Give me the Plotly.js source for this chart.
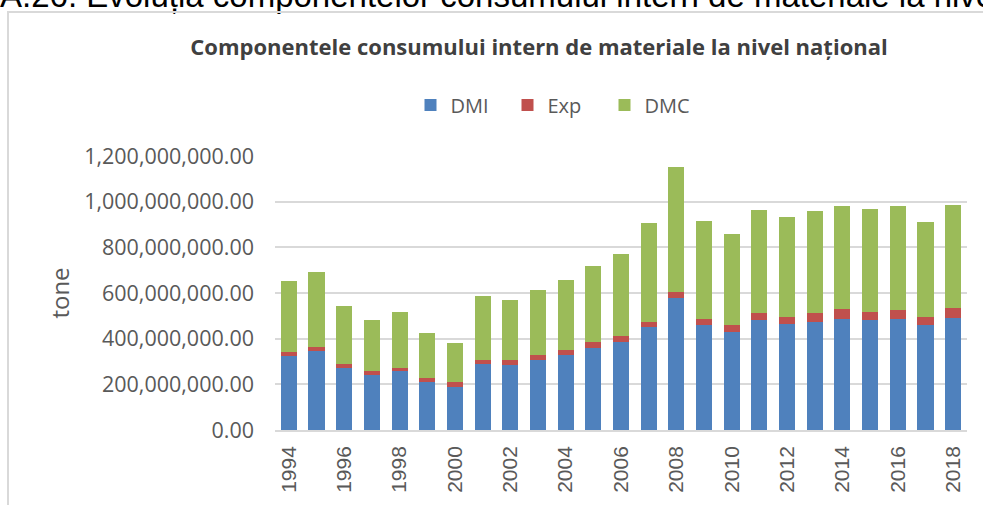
<!DOCTYPE html>
<html>
<head>
<meta charset="utf-8">
<script src="https://cdn.plot.ly/plotly-3.0.1.min.js"></script>
<style>
  html, body { margin: 0; padding: 0; background: #ffffff; overflow: hidden; }
  #wrap { position: relative; width: 983px; height: 505px; overflow: hidden; }
  #heading { position: absolute; left: 0px; top: -21px; font-family: Arial, "Liberation Sans", sans-serif;
             font-size: 33px; line-height: 33px; color: #000; white-space: nowrap; }
  #frame { position: absolute; left: 7px; top: 11px; width: 1100px; height: 600px;
           border-left: 2px solid #d9d9d9; border-top: 2px solid #d9d9d9; }
  #chart { position: absolute; left: 0; top: 0; width: 983px; height: 505px; }
</style>
</head>
<body>
<div id="wrap">
  <div id="heading">A.26. Evoluția componentelor consumului intern de materiale la nivel</div>
  <div id="frame"></div>
  <div id="chart"></div>
</div>
<script>
// Data (tone)
const years = [1994, 1995, 1996, 1997, 1998, 1999, 2000, 2001, 2002, 2003, 2004, 2005, 2006,
               2007, 2008, 2009, 2010, 2011, 2012, 2013, 2014, 2015, 2016, 2017, 2018];
const dmi = [324, 346, 273, 239, 257, 212, 188, 290, 283, 306, 328, 357, 385,
             452, 576, 458, 430, 480, 464, 475, 486, 480, 486, 458, 491].map(v => v * 1e6);
const exp = [17, 17, 17, 18, 16, 17, 24, 16, 23, 22, 23, 28, 28,
             22, 28, 28, 28, 33, 33, 38, 44, 39, 39, 39, 45].map(v => v * 1e6);
const dmc = [312, 330, 251, 223, 246, 195, 167, 280, 264, 286, 308, 335, 359,
             433, 550, 431, 402, 450, 438, 444, 449, 449, 454, 415, 448].map(v => v * 1e6);
const tickYears = [1994, 1996, 1998, 2000, 2002, 2004, 2006, 2008, 2010, 2012, 2014, 2016, 2018];
const yTicks = [0, 200e6, 400e6, 600e6, 800e6, 1000e6, 1200e6];

const seriesNames = ['DMI', 'Exp', 'DMC'];
const seriesColors = ['#4f81bd', '#c0504d', '#9bbb59'];
const seriesValues = [dmi, exp, dmc];

const traces = seriesValues.map((vals, i) => ({
  type: 'bar',
  name: seriesNames[i],
  x: years,
  y: vals,
  marker: { color: seriesColors[i], line: { width: 0 } },
  hovertemplate: '%{x}: %{y:,.2f}<extra>' + seriesNames[i] + '</extra>'
}));

const layout = {
  width: 983,
  height: 505,
  margin: { l: 275, r: 16, t: 156, b: 75 },
  paper_bgcolor: 'rgba(0,0,0,0)',
  plot_bgcolor: 'rgba(0,0,0,0)',
  barmode: 'stack',
  bargap: 0.42,
  font: { family: '"Open Sans", sans-serif', color: '#595959' },
  title: {
    text: '<b>Componentele consumului intern de materiale la nivel național</b>',
    font: { family: '"Open Sans", sans-serif', size: 22, color: '#404040' },
    x: 539 / 983, xanchor: 'center', xref: 'container',
    y: 1 - 47 / 505, yanchor: 'middle', yref: 'container'
  },
  showlegend: true,
  legend: {
    orientation: 'h',
    xref: 'container', yref: 'container',
    x: 556 / 983, xanchor: 'center',
    y: 1 - 105 / 505, yanchor: 'middle',
    font: { family: '"Open Sans", sans-serif', size: 20, color: '#595959' },
    traceorder: 'normal',
    entrywidth: 52,
    itemclick: false
  },
  xaxis: {
    type: 'linear',
    range: [1993.5, 2018.5],
    tickmode: 'array',
    tickvals: tickYears,
    ticktext: tickYears.map(String),
    tickangle: -90,
    tickfont: { family: 'Arial, "Liberation Sans", sans-serif', size: 21, color: '#595959' },
    showgrid: false,
    zeroline: false,
    showline: true,
    linecolor: '#d9d9d9',
    linewidth: 1.5,
    ticks: '',
    ticklabelstandoff: 6,
    fixedrange: true
  },
  yaxis: {
    range: [0, 1200e6],
    tickmode: 'array',
    tickvals: yTicks,
    tickformat: ',.2f',
    tickfont: { family: '"Open Sans", sans-serif', size: 21.5, color: '#595959' },
    showgrid: true,
    gridcolor: '#d9d9d9',
    gridwidth: 1.5,
    zeroline: false,
    showline: false,
    ticks: '',
    ticklabelstandoff: 20,
    title: {
      text: 'tone',
      font: { family: '"Open Sans", sans-serif', size: 24, color: '#595959' },
      standoff: 7
    },
    fixedrange: true
  }
};

Plotly.newPlot('chart', traces, layout, { displayModeBar: false, staticPlot: false });
</script>
</body>
</html>
